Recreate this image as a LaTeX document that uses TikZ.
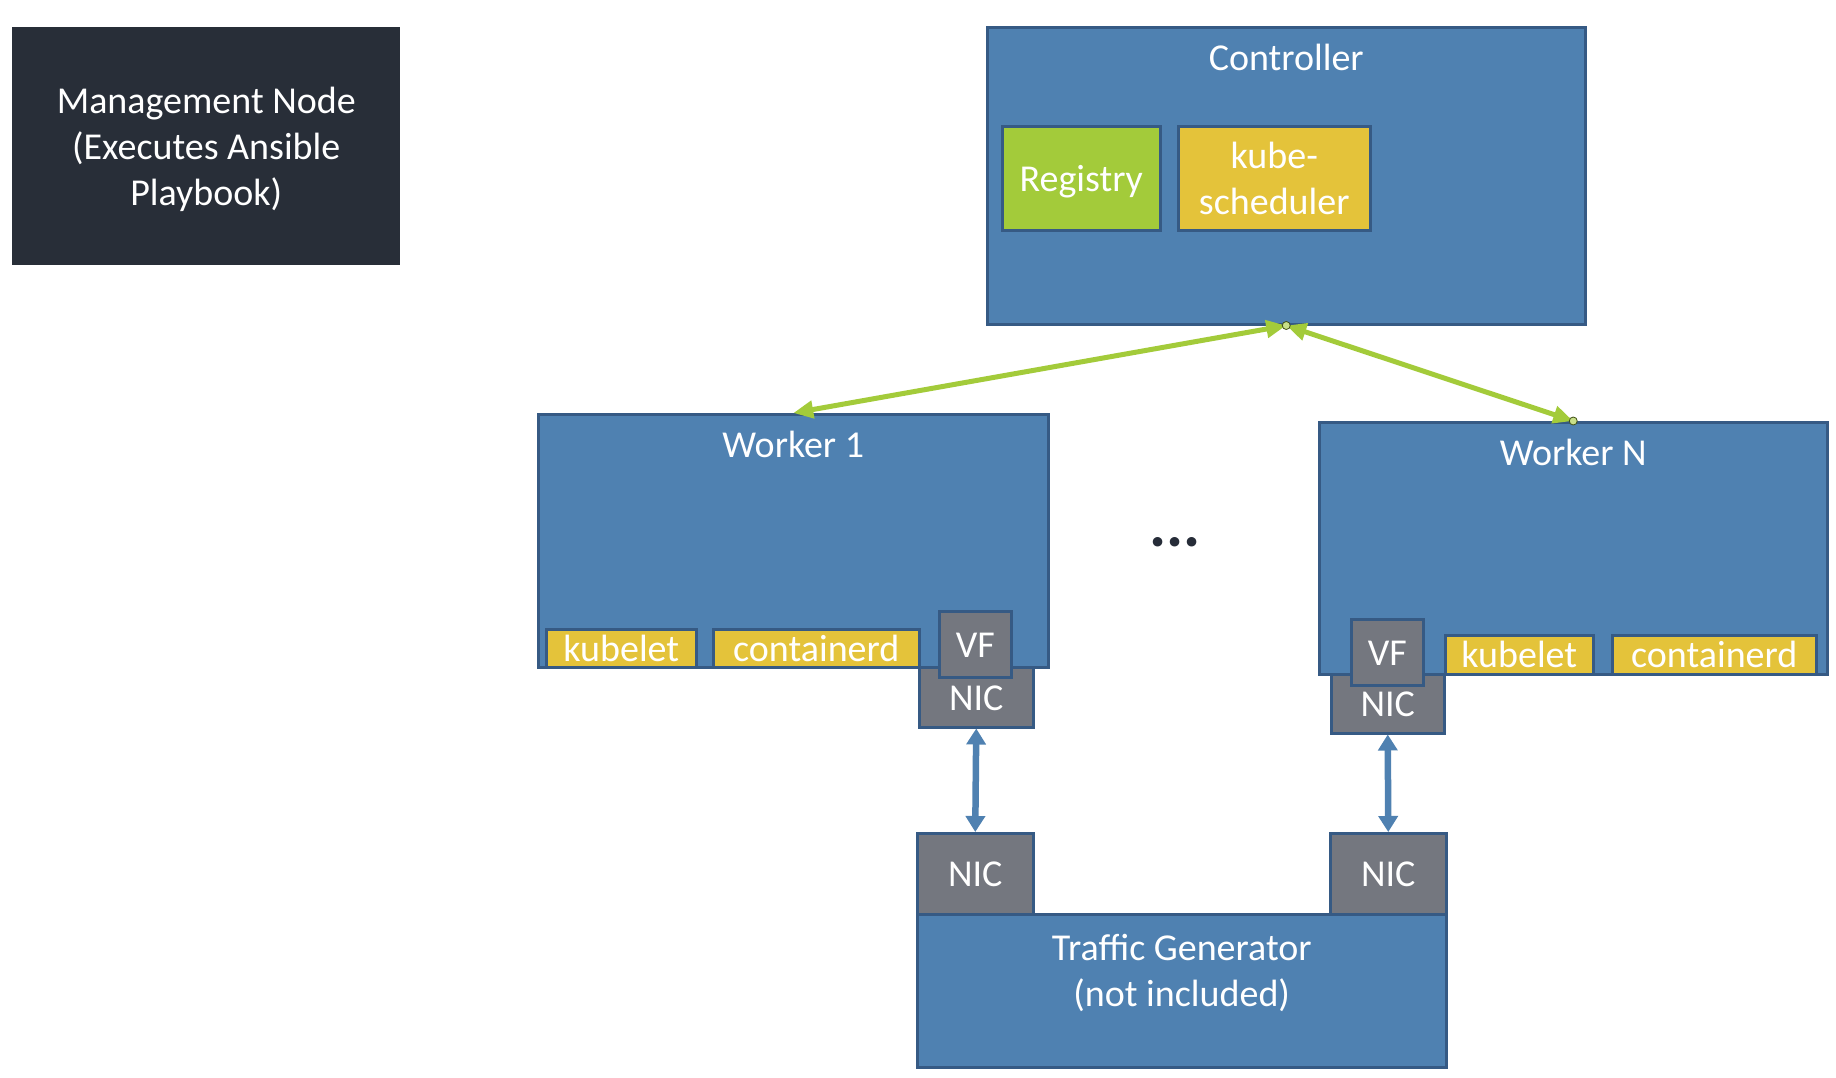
\documentclass[tikz,border=0pt]{standalone}
\usepackage{fontspec}
\setmainfont{Carlito}
\usetikzlibrary{arrows.meta,positioning}

\definecolor{hostblue}{HTML}{4F81B1}
\definecolor{edgeblue}{HTML}{365A84}
\definecolor{nicgray}{HTML}{74777F}
\definecolor{kubeyellow}{HTML}{E4C33A}
\definecolor{regreen}{HTML}{A3CB3A}
\definecolor{mgmtdark}{HTML}{282E38}
\definecolor{dotdark}{HTML}{262C38}

\tikzset{
  box/.style={draw=edgeblue, line width=2.5pt, anchor=north west, inner sep=0pt, text=white},
  oneline/.style={text height=26pt, text depth=0pt},
  host/.style={box, fill=hostblue},
  nic/.style={box, oneline, fill=nicgray},
  kube/.style={box, fill=kubeyellow},
  title/.style={anchor=base, yshift=-44pt, text=white, inner sep=0pt},
  greenlink/.style={draw=regreen, line width=5pt, <->, >={Triangle[length=20pt,width=17pt]}},
  bluelink/.style={draw=hostblue, line width=6.5pt, <->, >={Triangle[length=16pt,width=19pt]}},
  pin/.style={circle, fill=regreen!60!white, draw=black!60!regreen, line width=0.8pt, inner sep=0pt, minimum size=8pt}
}

\begin{document}
\begin{tikzpicture}[x=1pt, y=-1pt, font=\fontsize{38}{46}\selectfont]
\useasboundingbox (0,0) rectangle (1836,1077);

% management node
\node[box, draw=none, fill=mgmtdark, minimum width=388pt, minimum height=238pt] (mgmt) at (11,26) {};
\node[text=white, align=center] at ([yshift=-3pt]mgmt.center) {Management Node\\(Executes Ansible\\Playbook)};

% controller
\node[host, minimum width=598pt, minimum height=297pt] (ctrl) at (986,26) {};
\node[title] at (ctrl.north) {Controller};
\node[box, oneline, fill=regreen, minimum width=158pt, minimum height=104pt] (reg) at (1001,125) {Registry};
\node[kube, minimum width=192pt, minimum height=104pt, align=center] (sched) at (1177,125) {kube-\\scheduler};

% worker 1
\node[host, minimum width=510pt, minimum height=253pt] (w1) at (537,413) {};
\node[title] at (w1.north) {Worker 1};
\node[kube, oneline, minimum width=150pt, minimum height=38pt] (kub1) at (545,628) {kubelet};
\node[kube, oneline, minimum width=206pt, minimum height=38pt] (ctd1) at (712,628) {containerd};
\node[nic, minimum width=114pt, minimum height=60pt] (nic1) at (918,666) {NIC};
\node[nic, minimum width=72pt, minimum height=66pt] (vf1) at (938,610) {VF};

% worker N
\node[host, minimum width=508pt, minimum height=252pt] (wn) at (1318,421) {};
\node[title] at (wn.north) {Worker N};
\node[kube, oneline, minimum width=148pt, minimum height=39pt] (kubn) at (1444,634) {kubelet};
\node[kube, oneline, minimum width=204pt, minimum height=39pt] (ctdn) at (1611,634) {containerd};
\node[nic, minimum width=113pt, minimum height=59pt] (nicn) at (1330,673) {NIC};
\node[nic, minimum width=72pt, minimum height=66pt] (vfn) at (1350,618) {VF};

\node[text=dotdark, font=\fontsize{64}{70}\selectfont\bfseries] (dots) at (1175,542) {...};

% traffic generator
\node[host, minimum width=529pt, minimum height=153pt] (tg) at (916,913) {};
\node[text=white, align=center] at ([yshift=-60pt]tg.north) {Traffic Generator\\(not included)};
\node[nic, minimum width=116pt, minimum height=81pt] (tnic1) at (916,832) {NIC};
\node[nic, minimum width=116pt, minimum height=81pt] (tnicn) at (1329,832) {NIC};

% links
\draw[greenlink] (ctrl.south) -- (w1.north);
\draw[greenlink] (ctrl.south) -- (wn.north);
\node[pin] at (ctrl.south) {};
\node[pin] at (wn.north) {};
\draw[bluelink] (nic1.south) -- (tnic1.north);
\draw[bluelink] (nicn.south) -- (tnicn.north);
\end{tikzpicture}
\end{document}
